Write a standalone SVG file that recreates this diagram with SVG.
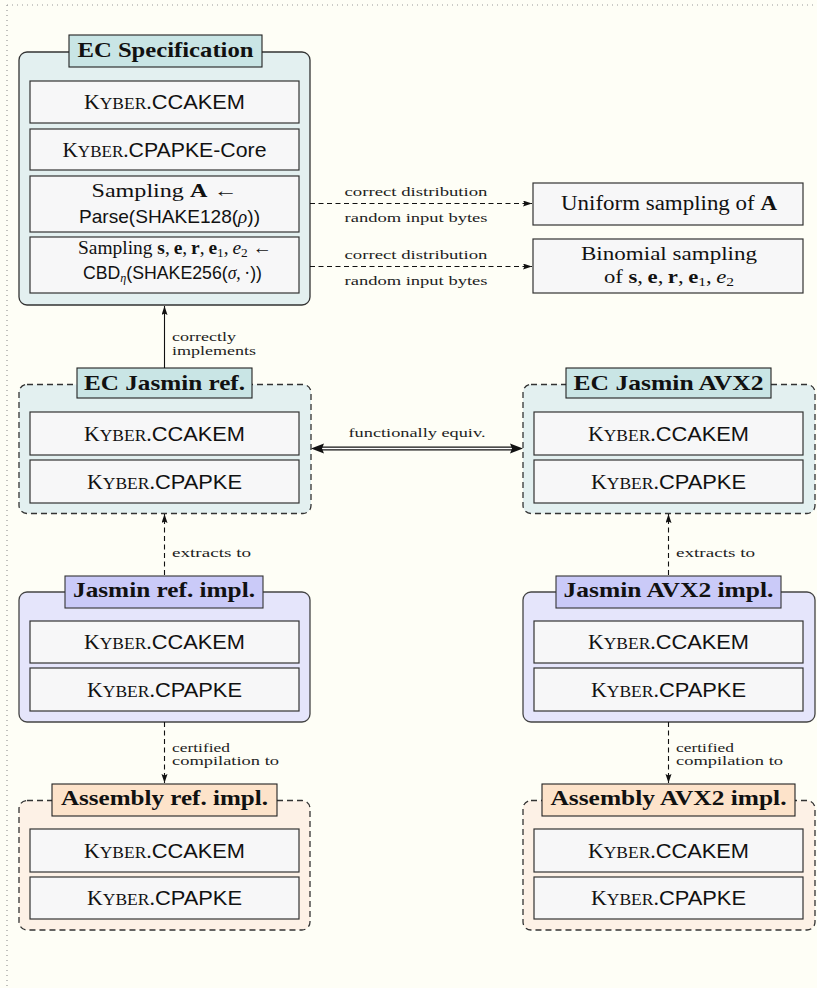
<svg xmlns="http://www.w3.org/2000/svg" width="817" height="988" viewBox="0 0 817 988">
<style>
.rm{font-family:"Liberation Serif",serif}
.sf{font-family:"Liberation Sans",sans-serif}
.t20{font-size:20px;fill:#111}
.t19{font-size:19px;fill:#111}
.title{font-family:"Liberation Serif",serif;font-weight:bold;font-size:21px;fill:#111}
.lbl{font-family:"Liberation Serif",serif;font-size:13.5px;fill:#222}
.inner{fill:#f7f7f8;stroke:#333;stroke-width:1.2}
.ecO{fill:#e3f0f0;stroke:#333;stroke-width:1.3}
.ecT{fill:#c9e5e5;stroke:#222;stroke-width:1.1}
.jO{fill:#e5e5fb;stroke:#444;stroke-width:1.3}
.jT{fill:#cacaf8;stroke:#333;stroke-width:1.1}
.aO{fill:#fdf1e6;stroke:#333;stroke-width:1.3}
.aT{fill:#fde3ca;stroke:#222;stroke-width:1.1}
.dash{stroke-dasharray:6 4}
.conn{fill:none;stroke:#111;stroke-width:1.1}
.dconn{fill:none;stroke:#111;stroke-width:1.1;stroke-dasharray:5 3.5}
.sc{font-size:16px}
.b{font-weight:bold}
.it{font-style:italic}
.sub{font-size:13px}
</style>
<defs>
<marker id="ah" markerWidth="10" markerHeight="8" refX="9" refY="3" orient="auto" markerUnits="userSpaceOnUse">
<path d="M0,0 L9,3 L0,6 L1.5,3 Z" fill="#111"/>
</marker>
</defs>
<rect x="0" y="0" width="817" height="988" fill="#fefef6"/>
<path d="M7,5 H817 M7,5 V988" fill="none" stroke="#999" stroke-width="1.2" stroke-dasharray="1 4"/>

<g id="ec-spec">
<rect class="ecO" x="19" y="52" width="291" height="253" rx="8"/>
<rect class="ecT" x="69" y="35" width="193" height="32"/>
<text class="title" x="165.5" y="57" text-anchor="middle" textLength="176" lengthAdjust="spacingAndGlyphs">EC Specification</text>
<rect class="inner" x="30" y="81" width="269" height="42"/>
<text class="t20" x="164.5" y="109" text-anchor="middle" textLength="161" lengthAdjust="spacingAndGlyphs"><tspan class="rm">K</tspan><tspan class="rm sc">YBER</tspan><tspan class="rm">.</tspan><tspan class="sf">CCAKEM</tspan></text>
<rect class="inner" x="30" y="129" width="269" height="41"/>
<text class="t20" x="164.5" y="156.5" text-anchor="middle" textLength="204" lengthAdjust="spacingAndGlyphs"><tspan class="rm">K</tspan><tspan class="rm sc">YBER</tspan><tspan class="rm">.</tspan><tspan class="sf">CPAPKE-Core</tspan></text>
<rect class="inner" x="30" y="176" width="269" height="56"/>
<text class="t19 rm" x="164.5" y="197" text-anchor="middle" textLength="146" lengthAdjust="spacingAndGlyphs">Sampling <tspan class="b">A</tspan>  ←</text>
<text class="t19" x="169.5" y="222.5" text-anchor="middle" textLength="181" lengthAdjust="spacingAndGlyphs"><tspan class="sf">Parse(SHAKE128(</tspan><tspan class="rm it">ρ</tspan><tspan class="sf">))</tspan></text>
<rect class="inner" x="30" y="237" width="269" height="56"/>
<text class="t19 rm" x="175" y="253.5" text-anchor="middle" textLength="194" lengthAdjust="spacingAndGlyphs">Sampling <tspan class="b">s</tspan>,&#8201;<tspan class="b">e</tspan>,&#8201;<tspan class="b">r</tspan>,&#8201;<tspan class="b">e</tspan><tspan class="sub" dy="3">1</tspan><tspan dy="-3">,&#8201;</tspan><tspan class="it">e</tspan><tspan class="sub" dy="3">2</tspan><tspan dy="-3"> ←</tspan></text>
<text class="t19" x="172.5" y="279" text-anchor="middle" textLength="179" lengthAdjust="spacingAndGlyphs"><tspan class="sf">CBD</tspan><tspan class="rm it sub" dy="3">η</tspan><tspan class="sf" dy="-3">(SHAKE256(</tspan><tspan class="rm it">σ</tspan><tspan class="rm">,&#8201;·</tspan><tspan class="sf">))</tspan></text>
</g>

<g id="uniform">
<rect class="inner" x="533" y="183" width="270" height="42"/>
<text class="t20 rm" x="669" y="210" text-anchor="middle" textLength="216" lengthAdjust="spacingAndGlyphs">Uniform sampling of <tspan class="b">A</tspan></text>
</g>

<g id="binomial">
<rect class="inner" x="533" y="239" width="270" height="54"/>
<text class="t19 rm" x="669" y="260" text-anchor="middle" textLength="176" lengthAdjust="spacingAndGlyphs">Binomial sampling</text>
<text class="t19 rm" x="669" y="283" text-anchor="middle" textLength="130" lengthAdjust="spacingAndGlyphs">of <tspan class="b">s</tspan>,&#8201;<tspan class="b">e</tspan>,&#8201;<tspan class="b">r</tspan>,&#8201;<tspan class="b">e</tspan><tspan class="sub" dy="3">1</tspan><tspan dy="-3">,&#8201;</tspan><tspan class="it">e</tspan><tspan class="sub" dy="3">2</tspan></text>
</g>

<g id="ec-jasmin-ref">
<rect class="ecO dash" x="19" y="384.5" width="292" height="129" rx="8"/>
<rect class="ecT" x="77" y="368" width="175" height="30"/>
<text class="title" x="164.5" y="390" text-anchor="middle" textLength="161" lengthAdjust="spacingAndGlyphs">EC Jasmin ref.</text>
<rect class="inner" x="30" y="412" width="269" height="43"/>
<text class="t20" x="164.5" y="440.5" text-anchor="middle" textLength="161" lengthAdjust="spacingAndGlyphs"><tspan class="rm">K</tspan><tspan class="rm sc">YBER</tspan><tspan class="rm">.</tspan><tspan class="sf">CCAKEM</tspan></text>
<rect class="inner" x="30" y="460" width="269" height="43"/>
<text class="t20" x="164.5" y="488.5" text-anchor="middle" textLength="155" lengthAdjust="spacingAndGlyphs"><tspan class="rm">K</tspan><tspan class="rm sc">YBER</tspan><tspan class="rm">.</tspan><tspan class="sf">CPAPKE</tspan></text>
</g>

<g id="ec-jasmin-avx2">
<rect class="ecO dash" x="523" y="384.5" width="292" height="129" rx="8"/>
<rect class="ecT" x="566" y="368" width="205" height="30"/>
<text class="title" x="668.5" y="390" text-anchor="middle" textLength="190" lengthAdjust="spacingAndGlyphs">EC Jasmin AVX2</text>
<rect class="inner" x="534" y="412" width="269" height="43"/>
<text class="t20" x="668.5" y="440.5" text-anchor="middle" textLength="161" lengthAdjust="spacingAndGlyphs"><tspan class="rm">K</tspan><tspan class="rm sc">YBER</tspan><tspan class="rm">.</tspan><tspan class="sf">CCAKEM</tspan></text>
<rect class="inner" x="534" y="460" width="269" height="43"/>
<text class="t20" x="668.5" y="488.5" text-anchor="middle" textLength="155" lengthAdjust="spacingAndGlyphs"><tspan class="rm">K</tspan><tspan class="rm sc">YBER</tspan><tspan class="rm">.</tspan><tspan class="sf">CPAPKE</tspan></text>
</g>

<g id="jasmin-ref-impl">
<rect class="jO" x="19" y="592" width="291" height="130" rx="8"/>
<rect class="jT" x="65" y="576" width="198" height="32"/>
<text class="title" x="164" y="597" text-anchor="middle" textLength="182" lengthAdjust="spacingAndGlyphs">Jasmin ref. impl.</text>
<rect class="inner" x="30" y="621" width="269" height="42"/>
<text class="t20" x="164.5" y="649" text-anchor="middle" textLength="161" lengthAdjust="spacingAndGlyphs"><tspan class="rm">K</tspan><tspan class="rm sc">YBER</tspan><tspan class="rm">.</tspan><tspan class="sf">CCAKEM</tspan></text>
<rect class="inner" x="30" y="668" width="269" height="43"/>
<text class="t20" x="164.5" y="697" text-anchor="middle" textLength="155" lengthAdjust="spacingAndGlyphs"><tspan class="rm">K</tspan><tspan class="rm sc">YBER</tspan><tspan class="rm">.</tspan><tspan class="sf">CPAPKE</tspan></text>
</g>

<g id="jasmin-avx2-impl">
<rect class="jO" x="523" y="592" width="292" height="130" rx="8"/>
<rect class="jT" x="556" y="576" width="225" height="32"/>
<text class="title" x="668.5" y="597" text-anchor="middle" textLength="210" lengthAdjust="spacingAndGlyphs">Jasmin AVX2 impl.</text>
<rect class="inner" x="534" y="621" width="269" height="42"/>
<text class="t20" x="668.5" y="649" text-anchor="middle" textLength="161" lengthAdjust="spacingAndGlyphs"><tspan class="rm">K</tspan><tspan class="rm sc">YBER</tspan><tspan class="rm">.</tspan><tspan class="sf">CCAKEM</tspan></text>
<rect class="inner" x="534" y="668" width="269" height="43"/>
<text class="t20" x="668.5" y="697" text-anchor="middle" textLength="155" lengthAdjust="spacingAndGlyphs"><tspan class="rm">K</tspan><tspan class="rm sc">YBER</tspan><tspan class="rm">.</tspan><tspan class="sf">CPAPKE</tspan></text>
</g>

<g id="asm-ref-impl">
<rect class="aO dash" x="19" y="800.5" width="291" height="129.5" rx="8"/>
<rect class="aT" x="52" y="784" width="225" height="32"/>
<text class="title" x="164.5" y="805" text-anchor="middle" textLength="207" lengthAdjust="spacingAndGlyphs">Assembly ref. impl.</text>
<rect class="inner" x="30" y="829" width="269" height="43"/>
<text class="t20" x="164.5" y="857.5" text-anchor="middle" textLength="161" lengthAdjust="spacingAndGlyphs"><tspan class="rm">K</tspan><tspan class="rm sc">YBER</tspan><tspan class="rm">.</tspan><tspan class="sf">CCAKEM</tspan></text>
<rect class="inner" x="30" y="877" width="269" height="42"/>
<text class="t20" x="164.5" y="905" text-anchor="middle" textLength="155" lengthAdjust="spacingAndGlyphs"><tspan class="rm">K</tspan><tspan class="rm sc">YBER</tspan><tspan class="rm">.</tspan><tspan class="sf">CPAPKE</tspan></text>
</g>

<g id="asm-avx2-impl">
<rect class="aO dash" x="523" y="800.5" width="292" height="129.5" rx="8"/>
<rect class="aT" x="542" y="784" width="253" height="32"/>
<text class="title" x="668.5" y="805" text-anchor="middle" textLength="236" lengthAdjust="spacingAndGlyphs">Assembly AVX2 impl.</text>
<rect class="inner" x="534" y="829" width="269" height="43"/>
<text class="t20" x="668.5" y="857.5" text-anchor="middle" textLength="161" lengthAdjust="spacingAndGlyphs"><tspan class="rm">K</tspan><tspan class="rm sc">YBER</tspan><tspan class="rm">.</tspan><tspan class="sf">CCAKEM</tspan></text>
<rect class="inner" x="534" y="877" width="269" height="42"/>
<text class="t20" x="668.5" y="905" text-anchor="middle" textLength="155" lengthAdjust="spacingAndGlyphs"><tspan class="rm">K</tspan><tspan class="rm sc">YBER</tspan><tspan class="rm">.</tspan><tspan class="sf">CPAPKE</tspan></text>
</g>

<g id="connectors">
<path class="dconn" d="M310,203.5 H532" marker-end="url(#ah)"/>
<text class="lbl" x="416" y="196" text-anchor="middle" textLength="143" lengthAdjust="spacingAndGlyphs">correct distribution</text>
<text class="lbl" x="416" y="222" text-anchor="middle" textLength="143" lengthAdjust="spacingAndGlyphs">random input bytes</text>
<path class="dconn" d="M310,266.5 H532" marker-end="url(#ah)"/>
<text class="lbl" x="416" y="259" text-anchor="middle" textLength="143" lengthAdjust="spacingAndGlyphs">correct distribution</text>
<text class="lbl" x="416" y="285" text-anchor="middle" textLength="143" lengthAdjust="spacingAndGlyphs">random input bytes</text>

<path class="conn" d="M164.5,368 V306" marker-end="url(#ah)"/>
<text class="lbl" x="172" y="341" textLength="64" lengthAdjust="spacingAndGlyphs">correctly</text>
<text class="lbl" x="172" y="355" textLength="84" lengthAdjust="spacingAndGlyphs">implements</text>

<path d="M322,448.5 H512" fill="none" stroke="#111" stroke-width="4"/>
<path d="M320,448.5 H514" fill="none" stroke="#fff" stroke-width="1.4"/>
<path d="M311,448.5 L324,443.5 L322,448.5 L324,453.5 Z" fill="#111"/>
<path d="M523,448.5 L510,443.5 L512,448.5 L510,453.5 Z" fill="#111"/>
<text class="lbl" x="417" y="437" text-anchor="middle" textLength="137" lengthAdjust="spacingAndGlyphs">functionally equiv.</text>

<path class="dconn" d="M164.5,575 V514" marker-end="url(#ah)"/>
<text class="lbl" x="172" y="556.5" textLength="79" lengthAdjust="spacingAndGlyphs">extracts to</text>
<path class="dconn" d="M668.5,575 V514" marker-end="url(#ah)"/>
<text class="lbl" x="676" y="556.5" textLength="79" lengthAdjust="spacingAndGlyphs">extracts to</text>

<path class="dconn" d="M164.5,722 V783" marker-end="url(#ah)"/>
<text class="lbl" x="172" y="751.5" textLength="58" lengthAdjust="spacingAndGlyphs">certified</text>
<text class="lbl" x="172" y="765" textLength="107" lengthAdjust="spacingAndGlyphs">compilation to</text>
<path class="dconn" d="M668.5,722 V783" marker-end="url(#ah)"/>
<text class="lbl" x="676" y="751.5" textLength="58" lengthAdjust="spacingAndGlyphs">certified</text>
<text class="lbl" x="676" y="765" textLength="107" lengthAdjust="spacingAndGlyphs">compilation to</text>
</g>
</svg>
